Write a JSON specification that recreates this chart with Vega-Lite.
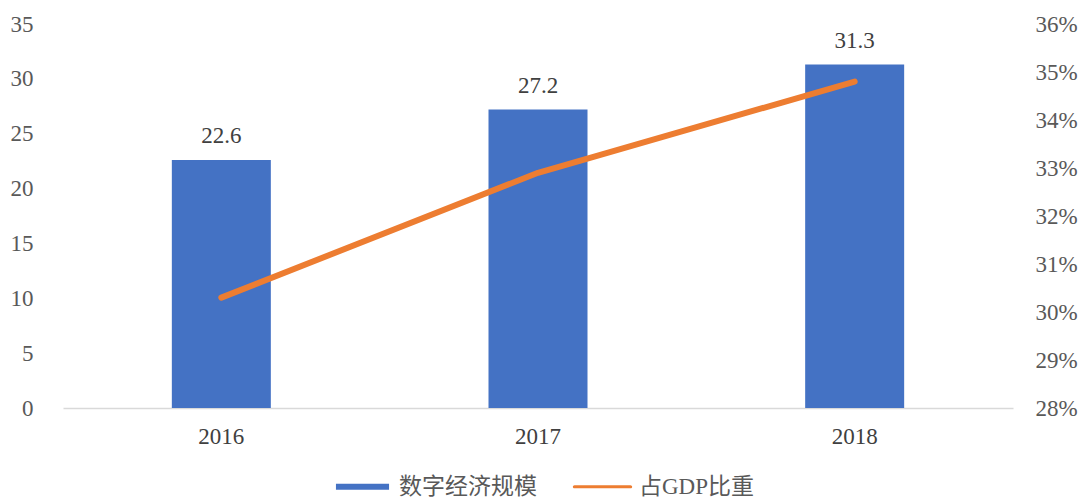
{
  "$schema": "https://vega.github.io/schema/vega-lite/v6.json",
  "width": 950,
  "height": 384,
  "autosize": {"type": "none"},
  "padding": {"left": 63, "top": 24, "right": 73, "bottom": 91},
  "background": "white",
  "config": {
    "view": {"stroke": null},
    "font": "Liberation Serif",
    "axis": {"labelFont": "Liberation Serif", "labelFontSize": 23, "labelColor": "#595959", "grid": false, "ticks": false, "domain": false, "title": null}
  },
  "data": {
    "values": [
      {"year": "2016", "scale": 22.6, "share": 0.303, "s1": "数字经济规模", "s2": "占GDP比重"},
      {"year": "2017", "scale": 27.2, "share": 0.329, "s1": "数字经济规模", "s2": "占GDP比重"},
      {"year": "2018", "scale": 31.3, "share": 0.348, "s1": "数字经济规模", "s2": "占GDP比重"}
    ]
  },
  "encoding": {
    "x": {"field": "year", "type": "nominal", "sort": null,
      "axis": {"labelAngle": 0, "domain": true, "domainColor": "#D9D9D9", "domainWidth": 1.5, "labelPadding": 17, "labelColor": "#404040"}}
  },
  "layer": [
    {
      "layer": [
        {
          "mark": {"type": "bar", "width": 99},
          "encoding": {
            "y": {"field": "scale", "type": "quantitative", "scale": {"domain": [0, 35], "nice": false},
              "axis": {"values": [0, 5, 10, 15, 20, 25, 30, 35], "labelPadding": 30}},
            "color": {"field": "s1", "type": "nominal",
              "scale": {"domain": ["数字经济规模", "占GDP比重"], "range": ["#4472C4", "#ED7D31"]},
              "legend": {
                "orient": "none", "legendX": 270, "legendY": 433, "direction": "horizontal", "title": null,
                "padding": 0, "symbolSize": 3481, "symbolStrokeWidth": 0,
                "labelFont": "Liberation Serif, Noto Sans CJK SC", "labelFontSize": 23, "labelColor": "#595959",
                "labelOffset": 7, "columnPadding": 35,
                "encode": {
                  "symbols": {"update": {
                    "shape": {"signal": "datum.value === '数字经济规模' ? 'M-0.9,-0.1H0.9V0.1H-0.9Z' : 'M-0.95,-0.055H0.95A0.055,0.055,0,0,1,0.95,0.055H-0.95A0.055,0.055,0,0,1,-0.95,-0.055Z'"},
                    "fill": {"signal": "datum.value === '数字经济规模' ? '#4472C4' : '#ED7D31'"},
                    "stroke": {"value": "transparent"},
                    "strokeWidth": {"value": 0},
                    "opacity": {"value": 1}
                  }}
                }
              }}
          }
        },
        {
          "mark": {"type": "text", "baseline": "alphabetic", "dy": -17, "fontSize": 23, "font": "Liberation Serif", "color": "#404040"},
          "encoding": {
            "y": {"field": "scale", "type": "quantitative"},
            "text": {"field": "scale", "type": "quantitative", "format": ".1f"}
          }
        }
      ]
    },
    {
      "mark": {"type": "line", "strokeWidth": 6, "strokeCap": "round", "strokeJoin": "round"},
      "encoding": {
        "y": {"field": "share", "type": "quantitative", "scale": {"domain": [0.28, 0.36], "nice": false},
          "axis": {"orient": "right", "format": ".0%", "values": [0.28, 0.29, 0.30, 0.31, 0.32, 0.33, 0.34, 0.35, 0.36], "labelPadding": 22}},
        "color": {"field": "s2", "type": "nominal"}
      }
    }
  ],
  "resolve": {"scale": {"y": "independent"}}
}
